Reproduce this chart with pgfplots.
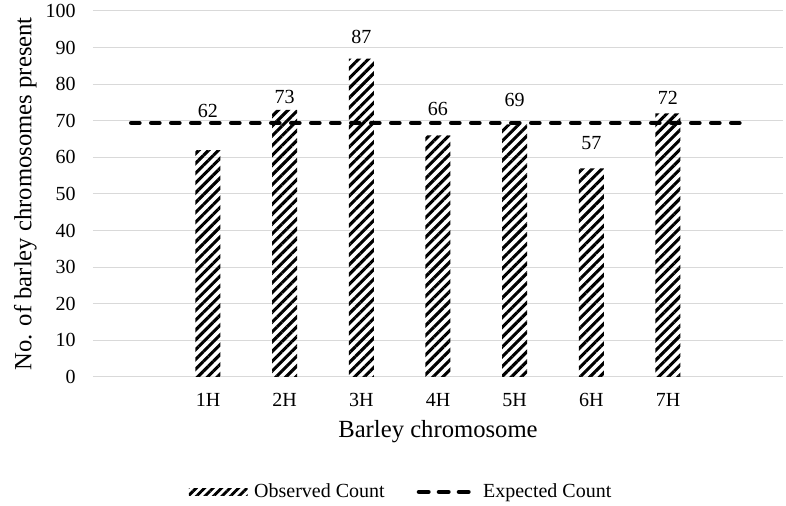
\documentclass[border=0pt]{standalone}
\usepackage{fontspec}
\setmainfont{Liberation Serif}
\usepackage{pgfplots}
\pgfplotsset{compat=1.18}
\usetikzlibrary{patterns.meta}

\newcommand{\ticksize}{\fontsize{15}{18}\selectfont}
\newcommand{\labsize}{\fontsize{18.5}{22}\selectfont}

\begin{document}
\begin{tikzpicture}
\path[use as bounding box] (-69.75pt,-96.75pt) rectangle (519.75pt,282.75pt);
\begin{axis}[
    scale only axis,
    width=517.5pt, height=274.5pt,
    xmin=-0.5, xmax=8.5,
    ymin=0, ymax=100,
    xtick={1,2,3,4,5,6,7},
    xticklabels={1H,2H,3H,4H,5H,6H,7H},
    ytick={0,10,...,100},
    ymajorgrids=true,
    grid style={draw=gray!30, line width=0.75pt},
    axis line style={draw=none},
    major tick length=0pt,
    tick style={draw=none},
    /pgf/number format/assume math mode=true,
    tick label style={font=\ticksize},
    yticklabel style={anchor=east, inner sep=0pt, xshift=-12.75pt},
    xticklabel style={anchor=center, inner sep=0pt, yshift=-17.25pt},
    xlabel={Barley chromosome},
    ylabel={No. of barley chromosomes present},
    label style={font=\labsize},
    xlabel style={at={(axis description cs:0.5,-0.150)}, anchor=center},
    ylabel style={at={(axis description cs:-0.098,0.5)}, anchor=center},
    legend style={at={(axis description cs:0.447,-0.314)}, anchor=center,
        draw=none, fill=none, legend columns=2, font=\ticksize,
        /tikz/every even column/.append style={column sep=22pt}},
    legend cell align=left,
    clip=false,
]
% observed counts
\addplot[ybar, bar width=18.75pt, draw=none,
    pattern={Lines[angle=45, distance=5.2pt, line width=2.3pt]}, pattern color=black,
    legend image code/.code={
        \fill[pattern={Lines[angle=45, distance=4.5pt, line width=2.2pt]}, pattern color=black]
            (0pt,-2.4pt) rectangle (44pt,2.4pt);
        \path (47pt,0pt);}
] coordinates {
    (1,62) (2,73) (3,87) (4,66) (5,69) (6,57) (7,72)
};
\addlegendentry{Observed Count}
% expected count
\addplot[black, line width=3.5pt, dash pattern=on 6pt off 9pt, line cap=round,
    legend image code/.code={
        \draw[line width=3.5pt, dash pattern=on 7pt off 8pt, line cap=round]
            (1.75pt,0pt) -- (43pt,0pt);
        \path (46pt,0pt);}
] coordinates {(0,69.43) (8,69.43)};
\addlegendentry{Expected Count}
% data labels (placed where the reference puts them)
\addplot[draw=none, mark=none, forget plot, nodes near coords,
    nodes near coords align=center, point meta=explicit symbolic,
    every node near coord/.append style={font=\ticksize, inner sep=0pt}]
coordinates {
    (1,72.8) [62] (2,76.6) [73] (3,92.9) [87] (4,73.2) [66]
    (5,75.7) [69] (6,63.9) [57] (7,76.2) [72]
};
\end{axis}
\end{tikzpicture}
\end{document}
